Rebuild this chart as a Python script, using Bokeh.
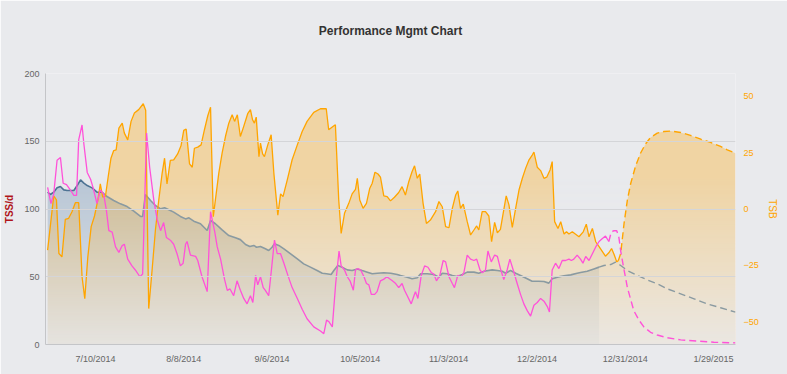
import numpy as np
import pandas as pd
from bokeh.plotting import figure
from bokeh.models import Range1d, LinearAxis, FixedTicker, CustomJSTickFormatter, Title
from bokeh.embed import file_html
from bokeh.resources import INLINE

# ---------------- data (days counted from 7/10/2014) ----------------
BASE_DATE = "2014-07-10"
TICK_LABELS = ["7/10/2014", "8/8/2014", "9/6/2014", "10/5/2014", "11/3/2014",
               "12/2/2014", "12/31/2014", "1/29/2015"]

# Fitness (CTL), left axis, history
CTL_DAYS = [-15.7, -14.8, -13.7, -12.6, -11.5, -10.4, -9.3, -7.1, -6.0, -4.9,
            -3.8, -2.7, -1.1, 0.5, 2.2, 3.8, 6.0, 8.2, 10.4, 12.6,
            14.8, 15.5, 16.4, 18.1, 19.7, 21.4, 22.7, 24.1, 25.7, 27.9,
            29.6, 30.7, 32.3, 34.5, 36.7, 37.8, 39.4, 41.6, 43.8, 46.0,
            47.6, 49.3, 50.7, 52.0, 52.9, 54.2, 55.8, 56.9, 58.0, 58.8,
            60.2, 61.9, 64.1, 66.3, 68.4, 70.6, 72.8, 74.5, 75.9, 77.4,
            78.3, 79.6, 81.0, 82.7, 84.3, 86.0, 87.6, 89.3, 90.9, 92.6,
            94.7, 97.0, 99.1, 100.2, 102.4, 104.0, 105.7, 106.8, 109.0, 111.1,
            112.8, 113.9, 115.5, 117.2, 118.8, 120.5, 122.1, 124.3, 125.9, 127.6,
            130.3, 132.0, 133.6, 134.7, 136.3, 138.0, 139.6, 141.8, 143.4, 145.6,
            147.3, 148.9, 150.0, 151.7, 153.9, 156.1, 158.2, 159.3, 161.5, 163.7,
            165.4]
CTL = [112.4, 110.7, 112.4, 115.6, 116.6, 114.1, 113.7, 113.7, 117.3, 121.5,
       119.1, 117.3, 115.6, 112.4, 112.4, 109.2, 106.3, 103.8, 101.8, 98.4,
       94.5, 94.5, 110.7, 106.3, 102.6, 100.1, 100.9, 99.4, 97.7, 94.5,
       92.7, 93.5, 91.0, 89.1, 84.1, 91.5, 89.1, 84.6, 80.4, 78.7,
       77.4, 73.8, 72.3, 73.1, 71.8, 72.3, 70.6, 69.4, 71.8, 74.3,
       73.1, 70.6, 66.9, 63.2, 59.5, 57.1, 54.6, 52.6, 52.2, 51.7,
       54.6, 58.3, 57.1, 55.1, 54.6, 55.8, 54.6, 53.4, 52.2, 52.6,
       53.0, 52.6, 51.7, 50.9, 49.7, 48.5, 49.2, 52.2, 52.2, 51.7,
       49.7, 52.6, 52.2, 50.9, 50.2, 51.7, 53.4, 53.4, 52.6, 54.1,
       55.1, 54.6, 54.1, 52.6, 54.6, 52.6, 50.9, 48.5, 46.7, 46.7,
       46.5, 45.3, 48.5, 49.7, 50.7, 51.4, 52.6, 53.1, 54.1, 55.8,
       57.1]
# Fitness projection
CTL_PROJ_DAYS = [165.4, 167.0, 169.2, 170.8, 172.5, 174.7, 178.0, 181.2, 184.5, 187.8,
                 192.2, 196.6, 200.9, 205.3, 210.2]
CTL_PROJ = [57.1, 58.3, 59.0, 60.8, 58.3, 54.6, 50.9, 47.7, 44.8, 41.1,
            37.4, 33.7, 30.0, 27.1, 23.9]

# Fatigue (ATL), left axis, history
ATL_DAYS = [-15.7, -14.6, -13.7, -12.6, -11.5, -10.6, -9.5, -8.2, -7.1, -6.2,
            -5.5, -4.4, -3.8, -2.7, -1.6, -0.8, 0.5, 1.6, 2.7, 3.6,
            4.4, 5.5, 6.6, 7.7, 8.8, 9.5, 10.6, 12.0, 13.1, 14.6,
            15.5, 16.8, 17.8, 19.2, 20.3, 21.4, 22.4, 23.3, 24.6, 25.7,
            26.8, 27.9, 28.8, 29.6, 30.1, 31.2, 32.9, 33.6, 35.0, 36.7,
            37.8, 39.2, 40.0, 41.1, 42.4, 43.3, 44.2, 45.4, 46.5, 47.6,
            48.7, 49.8, 50.9, 51.7, 52.6, 53.3, 54.2, 55.1, 55.8, 56.9,
            57.7, 58.8, 59.7, 60.8, 61.9, 63.2, 64.6, 66.3, 67.9, 69.5,
            71.7, 73.9, 75.0, 75.9, 76.6, 77.8, 78.9, 80.0, 80.7, 81.8,
            82.7, 83.6, 84.7, 85.4, 86.2, 87.1, 88.2, 89.0, 89.8, 90.6,
            91.7, 92.5, 93.6, 94.6, 95.7, 97.5, 98.6, 99.6, 100.7, 101.5,
            102.4, 103.7, 104.6, 105.1, 105.9, 107.0, 108.1, 109.2, 110.3, 111.1,
            112.0, 113.1, 114.2, 115.0, 116.1, 117.2, 117.9, 119.0, 120.1, 121.0,
            122.1, 123.2, 124.3, 125.2, 126.3, 127.0, 128.1, 128.9, 130.0, 131.1,
            132.0, 133.0, 134.1, 135.2, 136.1, 137.2, 138.5, 139.6, 140.7, 141.8,
            142.9, 144.0, 145.1, 146.2, 147.3, 148.4, 149.1, 150.0, 151.1, 152.2,
            153.3, 154.4, 155.5, 156.3, 157.1, 158.2, 159.3, 160.1, 161.0, 162.1,
            163.2, 164.3, 165.4, 166.4, 167.5, 168.6]
ATL = [116, 104, 111, 136, 138, 119, 118, 114, 110, 110,
       151, 162, 148, 127, 122, 116, 104, 114, 111, 99,
       84, 83, 72, 68, 73, 74, 63, 58, 55, 50,
       52, 156, 131, 106, 92, 84, 90, 79, 77, 74,
       67, 58, 60, 74, 76, 66, 65, 62, 50, 39,
       98, 83, 72, 63, 48, 40, 41, 36, 47, 40,
       34, 30, 36, 31, 51, 44, 50, 42, 40, 36,
       53, 77, 67, 67, 60, 51, 42, 34, 26, 19,
       13, 10, 8, 18, 17, 13, 45, 69, 58, 55,
       50, 47, 40, 55, 56, 55, 50, 45, 44, 37,
       37, 39, 47, 48, 50, 47, 45, 42, 45, 40,
       36, 30, 36, 39, 34, 51, 58, 57, 53, 52,
       47, 51, 62, 61, 50, 45, 42, 51, 50, 53,
       66, 63, 62, 63, 55, 53, 55, 69, 61, 66,
       65, 56, 48, 55, 63, 55, 45, 37, 30, 25,
       21, 29, 31, 34, 32, 28, 24, 55, 60, 56,
       62, 62, 63, 62, 63, 66, 63, 60, 65, 62,
       67, 72, 76, 78, 80, 76]
ATL_PROJ_DAYS = [168.6, 169.4, 170.3, 171.2, 171.9, 172.5, 173.6, 174.7, 175.8, 176.8,
                 178.5, 180.1, 182.3, 184.5, 187.8, 192.2, 197.6, 203.1, 210.2]
ATL_PROJ = [76, 83, 84, 84, 79, 69, 55, 42, 33, 25,
            18, 13, 9, 7, 5, 3.4, 2.5, 1.7, 1.2]

# Form (TSB), right axis, history
TSB_DAYS = [-15.7, -13.7, -12.8, -12.0, -11.0, -9.9, -8.8, -7.7, -6.6, -5.5,
            -4.4, -3.5, -2.5, -1.4, -0.3, 0.8, 1.6, 2.4, 3.3, 4.2,
            5.1, 6.0, 6.8, 7.7, 8.8, 9.5, 10.6, 11.7, 12.8, 14.2,
            15.7, 16.5, 17.5, 18.6, 19.7, 20.8, 21.9, 22.7, 23.5, 24.6,
            25.7, 27.0, 28.1, 29.0, 29.8, 30.9, 31.8, 32.5, 33.6, 34.7,
            35.8, 36.9, 37.8, 38.7, 40.5, 41.6, 42.7, 43.8, 44.9, 45.7,
            46.6, 47.6, 48.7, 50.0, 50.9, 51.6, 52.2, 52.8, 53.7, 54.2,
            54.9, 55.5, 56.6, 57.7, 58.6, 59.9, 60.8, 61.6, 63.0, 64.6,
            66.3, 67.9, 69.5, 71.7, 73.9, 75.8, 76.6, 78.1, 78.8, 79.9,
            80.7, 81.8, 83.2, 84.3, 85.4, 86.0, 86.8, 87.9, 89.0, 90.1,
            90.9, 91.8, 92.8, 93.6, 94.7, 95.8, 96.9, 98.2, 99.6, 100.7,
            101.8, 102.9, 104.0, 104.8, 105.7, 106.5, 107.6, 108.7, 110.0, 111.7,
            112.8, 113.9, 115.0, 116.1, 117.2, 118.3, 119.0, 119.9, 120.8, 122.1,
            123.2, 124.3, 125.2, 125.9, 127.0, 128.1, 129.2, 130.1, 131.1, 132.0,
            133.0, 133.9, 134.9, 135.8, 136.9, 138.0, 139.1, 140.2, 141.3, 142.4,
            143.5, 144.0, 145.1, 146.2, 147.3, 148.2, 149.3, 150.0, 150.8, 151.9,
            152.8, 153.9, 154.7, 155.5, 156.6, 157.7, 158.8, 160.2, 161.2, 162.1,
            163.2, 164.3, 165.4, 166.5, 167.5, 168.6, 169.5, 170.3, 171.2, 171.7]
TSB = [-18.2, 5.8, 4.0, -19.7, -21.2, -4.6, -4.1, -1.2, 2.8, 2.8,
       -30.0, -39.7, -21.2, -7.8, -3.1, 4.0, 11.1, 5.2, 5.8, 14.4,
       22.5, 25.9, 26.2, 35.8, 38.0, 33.6, 30.6, 38.8, 42.5, 44.0,
       46.6, 43.7, -44.1, -27.1, -9.3, 4.0, 15.8, 22.5, 11.1, 21.5,
       21.8, 24.4, 28.0, 34.8, 35.4, 20.0, 18.5, 26.9, 27.4, 28.4,
       35.1, 41.3, 45.1, -3.4, 15.8, 24.7, 32.1, 38.0, 41.7, 38.8,
       41.7, 32.1, 36.6, 42.2, 44.0, 39.5, 38.0, 40.7, 23.2, 29.2,
       24.4, 23.2, 28.4, 32.9, 15.8, -2.7, 6.7, 5.5, 12.9, 21.8,
       28.4, 34.3, 38.8, 42.8, 44.4, 44.4, 35.1, 36.6, 37.3, 4.0,
       -10.8, -1.9, 2.5, 6.7, 8.7, 13.6, 4.0, 0.3, 2.5, 9.2,
       11.4, 16.3, 15.5, 14.1, 5.8, 5.5, 3.6, 5.2, 7.3, 9.9,
       6.2, 12.1, 16.6, 19.1, 13.6, 15.5, 2.5, -6.4, -4.9, -1.2,
       3.3, 1.0, -7.8, -8.3, 0.3, 6.2, 8.0, 0.3, 2.2, -5.6,
       -11.5, -9.3, -7.5, -9.3, -1.2, -1.2, -3.1, -14.5, -5.9, -10.5,
       -9.0, -1.9, 5.8, 1.8, -8.1, 0.3, 8.4, 13.6, 18.1, 21.8,
       24.0, 25.2, 18.5, 17.0, 13.6, 14.1, 17.3, 21.0, -5.6, -8.6,
       -5.6, -11.1, -10.1, -11.1, -10.1, -11.2, -12.3, -10.1, -6.7, -12.3,
       -8.6, -14.5, -16.7, -18.9, -20.9, -19.4, -17.5, -20.0, -23.4, -22.9]
TSB_PROJ_DAYS = [171.7, 172.5, 173.6, 174.7, 175.8, 177.4, 179.0, 180.7, 182.3, 184.5,
                 186.7, 188.9, 192.2, 195.4, 198.8, 202.0, 205.3, 207.5, 210.2]
TSB_PROJ = [-22.9, -19.7, -6.4, 4.0, 11.4, 19.1, 24.7, 28.9, 31.7, 33.6,
            34.3, 34.5, 33.9, 32.6, 30.9, 29.5, 27.7, 26.2, 24.7]

# ---------------- chart ----------------
DAY_MS = 86400000.0
BASE_MS = pd.Timestamp(BASE_DATE).value / 1e6


def xs(days):
    return BASE_MS + np.asarray(days, dtype=float) * DAY_MS


BG = "#e9eaed"
X0 = float(xs(-16.4))
X1 = float(xs(210.2))
LEFT_MAX = 200.0
TSB_MIN, TSB_MAX = -60.0, 60.0
FONT = "Liberation Sans"

p = figure(frame_width=690, frame_height=271, x_axis_type="datetime",
           x_range=Range1d(X0, X1), y_range=Range1d(0, LEFT_MAX),
           output_backend="svg", toolbar_location=None,
           background_fill_color=BG, border_fill_color=BG,
           min_border_left=45, min_border_right=52,
           min_border_top=73, min_border_bottom=30)
p.outline_line_color = None
p.extra_y_ranges = {"tsb": Range1d(TSB_MIN, TSB_MAX)}

# real title on top, an empty spacer title between it and the frame
p.title.text = "Performance Mgmt Chart"
p.title.align = "center"
p.title.text_font = FONT
p.title.text_font_size = "12px"
p.title.text_font_style = "bold"
p.title.text_color = "#333333"
p.title.standoff = 0
p.add_layout(Title(text=" ", text_font_size="1px", standoff=33), "above")

xa = p.xaxis[0]
xa.ticker = FixedTicker(ticks=[float(pd.Timestamp(l).value / 1e6) for l in TICK_LABELS],
                        minor_ticks=[])
xa.formatter = CustomJSTickFormatter(code="""
const d = new Date(tick);
return (d.getUTCMonth() + 1) + '/' + d.getUTCDate() + '/' + d.getUTCFullYear();
""")
xa.major_tick_line_color = None
xa.minor_tick_line_color = None
xa.major_tick_out = 0
xa.major_tick_in = 0
xa.axis_line_color = "#c4c5c8"
xa.major_label_text_color = "#666666"
xa.major_label_text_font = FONT
xa.major_label_text_font_size = "9px"
xa.major_label_standoff = 9

ya = p.yaxis[0]
ya.ticker = FixedTicker(ticks=[0, 50, 100, 150, 200], minor_ticks=[])
ya.axis_label = "TSS/d"
ya.axis_label_text_color = "#b0141a"
ya.axis_label_text_font = FONT
ya.axis_label_text_font_size = "10px"
ya.axis_label_text_font_style = "bold"
ya.axis_label_standoff = 6
ya.major_label_standoff = 6
ya.major_tick_line_color = None
ya.minor_tick_line_color = None
ya.major_tick_out = 0
ya.major_tick_in = 0
ya.axis_line_color = "#c4c5c8"
ya.major_label_text_color = "#666666"
ya.major_label_text_font = FONT
ya.major_label_text_font_size = "9px"

ra = LinearAxis(y_range_name="tsb", ticker=FixedTicker(ticks=[-50, -25, 0, 25, 50], minor_ticks=[]))
ra.axis_label = "TSB"
ra.axis_label_text_color = "#ffa500"
ra.axis_label_text_font = FONT
ra.axis_label_text_font_size = "10px"
ra.axis_label_text_font_style = "normal"
ra.axis_label_standoff = 5
ra.major_label_standoff = 8
ra.axis_line_color = None
ra.major_tick_line_color = None
ra.minor_tick_line_color = None
ra.major_tick_out = 0
ra.major_tick_in = 0
ra.major_label_text_color = "#ffa500"
ra.major_label_text_font = FONT
ra.major_label_text_font_size = "9px"
p.add_layout(ra, "right")

p.xgrid.visible = False
p.ygrid.ticker = FixedTicker(ticks=[50, 100, 150])
p.ygrid.grid_line_color = "#d4d5d8"
p.ygrid.level = "glyph"

# areas
ctl_x = xs(CTL_DAYS)
r = p.varea(x=ctl_x, y1=np.zeros(len(CTL)), y2=CTL, fill_color="#4a74a0", fill_alpha=0.3)
r.level = "underlay"

tsb_all_days = TSB_DAYS + TSB_PROJ_DAYS[1:]
tsb_all = TSB + TSB_PROJ[1:]
r = p.varea(x=xs(tsb_all_days), y1=np.full(len(tsb_all), TSB_MIN), y2=tsb_all,
            fill_color="#ffa500", fill_alpha=0.31, y_range_name="tsb")
r.level = "underlay"

# vertical fade towards the bottom (gradient look)
H = 256
row_val = (np.arange(H) + 0.5) / H * LEFT_MAX
fade = 0.85 * np.clip((125.0 - row_val) / 125.0, 0, 1)
img = np.zeros((H, 4), dtype=np.uint32)
view = img.view(dtype=np.uint8).reshape((H, 4, 4))
view[:, :, 0] = 233
view[:, :, 1] = 234
view[:, :, 2] = 237
view[:, :, 3] = (fade * 255).astype(np.uint8)[:, None]
r = p.image_rgba(image=[img], x=X0, y=0, dw=X1 - X0, dh=LEFT_MAX)
r.level = "underlay"

# lines
split = 15
p.line(ctl_x[:split], CTL[:split], line_color="#4d7393", line_width=1.6)
p.line(ctl_x[split - 1:], CTL[split - 1:], line_color="#8a9aa1", line_width=1.6)
p.line(xs(CTL_PROJ_DAYS), CTL_PROJ, line_color="#8a9aa1", line_width=1.4, line_dash="7 4")

p.line(xs(TSB_DAYS), TSB, line_color="#ffa500", line_width=1.3, y_range_name="tsb")
p.line(xs(TSB_PROJ_DAYS), TSB_PROJ, line_color="#ffa500", line_width=1.4, line_dash="7 4",
       y_range_name="tsb")

p.line(xs(ATL_DAYS), ATL, line_color="#ff52d9", line_width=1.3)
p.line(xs(ATL_PROJ_DAYS), ATL_PROJ, line_color="#ff52d9", line_width=1.4, line_dash="7 4")

open("out.html", "w").write(file_html(p, INLINE))
